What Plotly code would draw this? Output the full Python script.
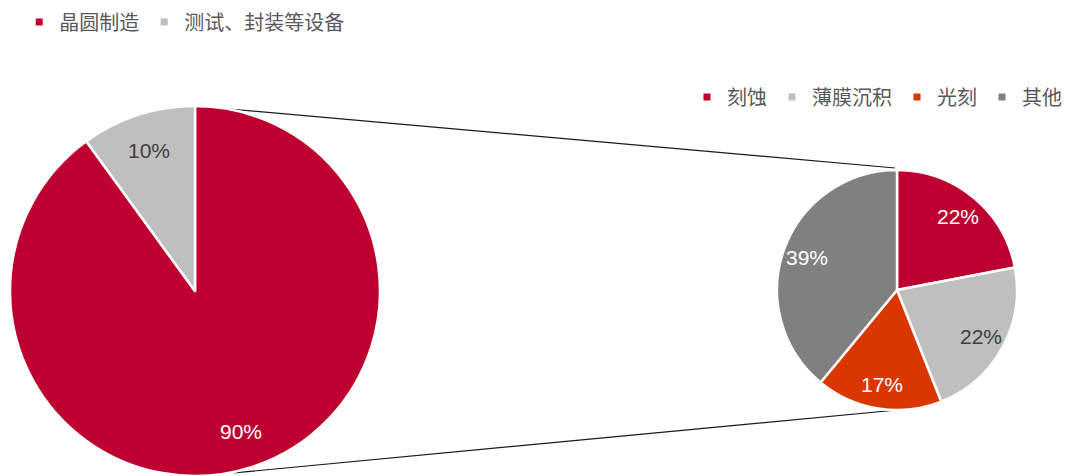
import math
import plotly.graph_objects as go

# ---- data ----
main_labels = ["晶圆制造", "测试、封装等设备"]
main_values = [90, 10]
main_colors = ["#BE0030", "#BFBFBF"]
main_text_colors = ["#FFFFFF", "#404040"]

sub_labels = ["刻蚀", "薄膜沉积", "光刻", "其他"]
sub_values = [22, 22, 17, 39]
sub_colors = ["#BE0030", "#BFBFBF", "#DA3700", "#808080"]
sub_text_colors = ["#FFFFFF", "#404040", "#FFFFFF", "#FFFFFF"]

W, H = 1067, 476

# geometry (px, from top-left)
big_cx, big_cy, big_r = 195, 291, 185
small_cx, small_cy, small_r = 897, 290, 120
label_frac = 0.8


def dom(cx, cy, r):
    return dict(x=[(cx - r) / W, (cx + r) / W],
                y=[(H - cy - r) / H, (H - cy + r) / H])


def p(pt):
    return pt[0] / W, (H - pt[1]) / H


fig = go.Figure()
annotations = []


def add_pie(labels, values, colors, text_colors, cx, cy, r):
    fig.add_trace(go.Pie(
        labels=labels, values=values, sort=False, direction="clockwise",
        rotation=0, domain=dom(cx, cy, r),
        marker=dict(colors=colors, line=dict(color="#FFFFFF", width=2.5)),
        textinfo="none", showlegend=False, hoverinfo="label+percent",
    ))
    total = float(sum(values))
    cum = 0.0
    for v, tc in zip(values, text_colors):
        mid = (cum + v / 2.0) / total * 2 * math.pi
        cum += v
        px = cx + label_frac * r * math.sin(mid)
        py = cy - label_frac * r * math.cos(mid)
        x, y = p((px, py))
        annotations.append(dict(
            x=x, y=y, xref="paper", yref="paper", text=f"{v}%", showarrow=False,
            xanchor="center", yanchor="middle",
            font=dict(family="Liberation Sans, Arial", size=21, color=tc)))


add_pie(main_labels, main_values, main_colors, main_text_colors, big_cx, big_cy, big_r)
add_pie(sub_labels, sub_values, sub_colors, sub_text_colors, small_cx, small_cy, small_r)

# legend proxies
for lab, col in zip(main_labels, main_colors):
    fig.add_trace(go.Scatter(x=[None], y=[None], mode="markers", name=lab,
                             marker=dict(symbol="square", size=7, color=col),
                             legend="legend"))
for lab, col in zip(sub_labels, sub_colors):
    fig.add_trace(go.Scatter(x=[None], y=[None], mode="markers", name=lab,
                             marker=dict(symbol="square", size=7, color=col),
                             legend="legend2"))

# connector lines
a = math.radians(12)
top_start = (big_cx, big_cy - big_r)
top_end = (small_cx - 2, small_cy - small_r - 2)
bot_start = (big_cx + big_r * math.sin(a), big_cy + big_r * math.cos(a) + 1)
bot_end = (small_cx, small_cy + small_r)

shapes = []
for s, e in [(top_start, top_end), (bot_start, bot_end)]:
    x0, y0 = p(s)
    x1, y1 = p(e)
    shapes.append(dict(type="line", xref="paper", yref="paper", x0=x0, y0=y0, x1=x1, y1=y1,
                       line=dict(color="#1A1A1A", width=1.2), layer="below"))

legend_font = dict(family="Noto Sans CJK SC", size=20, color="#595959")

fig.update_layout(
    width=W, height=H,
    margin=dict(l=0, r=0, t=0, b=0),
    paper_bgcolor="#FFFFFF", plot_bgcolor="#FFFFFF",
    xaxis=dict(visible=False), yaxis=dict(visible=False),
    shapes=shapes,
    annotations=annotations,
    legend=dict(orientation="h", x=0.018, xanchor="left", y=(H - 22) / H, yanchor="middle",
                font=legend_font, bgcolor="rgba(0,0,0,0)"),
    legend2=dict(orientation="h", x=1.0, xanchor="right", y=(H - 97) / H, yanchor="middle",
                 font=legend_font, bgcolor="rgba(0,0,0,0)"),
)

fig.write_html("out.html")
